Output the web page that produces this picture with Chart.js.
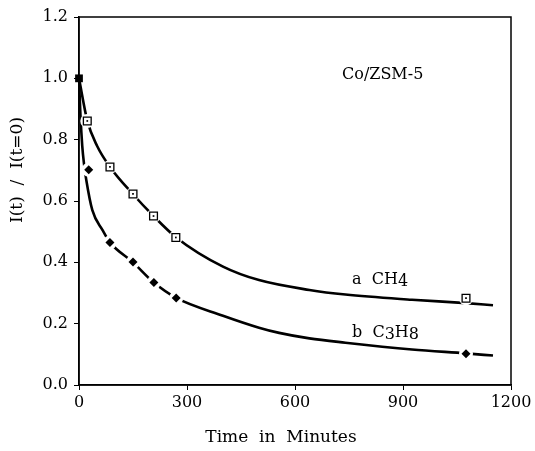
<!DOCTYPE html>
<html>
<head>
<meta charset="utf-8">
<script src="https://cdn.jsdelivr.net/npm/chart.js@4/dist/chart.umd.min.js"></script>
<style>
  html, body { margin: 0; padding: 0; background: #fff; }
  #wrap { width: 535px; height: 451px; }
</style>
</head>
<body>
<div id="wrap"><canvas id="chart"></canvas></div>
<script>
// measured points (minutes, I(t)/I(t=0))
const startTime = [0];
const startValue = [1.0];
const ch4Time = [23, 86, 150, 207, 269, 1075];
const ch4Value = [0.861, 0.711, 0.623, 0.551, 0.481, 0.283];
const c3h8Time = [27, 86, 150, 208, 270, 1075];
const c3h8Value = [0.702, 0.465, 0.401, 0.334, 0.284, 0.102];

// fitted curves
const fitATime = [0, 23, 50, 86, 150, 207, 269, 400, 500, 640, 740, 925, 1075, 1150];
const fitAValue = [1.0, 0.862, 0.78, 0.711, 0.622, 0.551, 0.482, 0.386, 0.342, 0.310, 0.295, 0.278, 0.267, 0.260];
const fitBTime = [0, 4, 9, 14, 20, 37, 65, 86, 150, 208, 270, 400, 500, 556, 640, 740, 925, 1075, 1150];
const fitBValue = [1.0, 0.88, 0.78, 0.72, 0.67, 0.57, 0.506, 0.465, 0.400, 0.334, 0.284, 0.226, 0.187, 0.170, 0.152, 0.138, 0.116, 0.103, 0.096];

const xTicks = [0, 300, 600, 900, 1200];
const yTicks = [0, 0.2, 0.4, 0.6, 0.8, 1.0, 1.2];

const serif = '"DejaVu Serif", "Liberation Serif", serif';

function pts(xs, ys) {
    return xs.map((x, i) => ({ x: x, y: ys[i] }));
}

// frame and text labels
const extras = {
    id: 'extras',
    afterDatasetsDraw(chart) {
        const ctx = chart.ctx;
        const a = chart.chartArea;
        ctx.save();
        ctx.strokeStyle = '#000';
        ctx.lineWidth = 1.5;
        ctx.strokeRect(a.left, a.top, a.right - a.left, a.bottom - a.top);

        ctx.fillStyle = '#000';
        ctx.textBaseline = 'middle';
        ctx.font = '16px ' + serif;
        ctx.textAlign = 'left';
        ctx.fillText('Co/ZSM-5', 342, 75);

        // series labels with lowered digits
        function chem(parts, x, y) {
            let cx = x;
            parts.forEach(p => {
                ctx.fillText(p[0], cx, y + p[1]);
                cx += ctx.measureText(p[0]).width;
            });
        }
        chem([['a  CH', 0], ['4', 2]], 352, 280);
        chem([['b  C', 0], ['3', 2], ['H', 0], ['8', 2]], 352, 333);

        // axis titles
        ctx.font = '17px ' + serif;
        ctx.textAlign = 'center';
        ctx.fillText('Time  in  Minutes', 281, 438);
        ctx.translate(18, 170);
        ctx.rotate(-Math.PI / 2);
        ctx.fillText('I(t)  /  I(t=0)', 0, 0);
        ctx.restore();
    }
};

const ctx = document.getElementById('chart');
new Chart(ctx, {
    type: 'scatter',
    data: {
        datasets: [
            {
                label: 'start',
                data: pts(startTime, startValue),
                pointStyle: 'rect',
                pointRadius: 5.5,
                backgroundColor: '#000',
                borderWidth: 0,
                showLine: false,
                clip: false
            },
            {
                label: 'CH4 dot',
                data: pts(ch4Time, ch4Value),
                pointStyle: 'rect',
                pointRadius: 1.2,
                backgroundColor: '#000',
                borderWidth: 0,
                showLine: false,
                clip: false
            },
            {
                label: 'CH4',
                data: pts(ch4Time, ch4Value),
                pointStyle: 'rect',
                pointRadius: 5.5,
                backgroundColor: '#fff',
                borderColor: '#000',
                borderWidth: 1.3,
                showLine: false,
                clip: false
            },
            {
                label: 'C3H8',
                data: pts(c3h8Time, c3h8Value),
                pointStyle: 'rectRot',
                pointRadius: 4.5,
                backgroundColor: '#000',
                borderWidth: 0,
                showLine: false,
                clip: false
            },
            {
                label: 'halo',
                data: pts(ch4Time, ch4Value).concat(pts(c3h8Time, c3h8Value)),
                pointStyle: 'circle',
                pointRadius: 7,
                backgroundColor: '#fff',
                borderWidth: 0,
                showLine: false
            },
            {
                label: 'fit a',
                data: pts(fitATime, fitAValue),
                showLine: true,
                borderColor: '#000',
                borderWidth: 2.6,
                pointRadius: 0,
                cubicInterpolationMode: 'monotone'
            },
            {
                label: 'fit b',
                data: pts(fitBTime, fitBValue),
                showLine: true,
                borderColor: '#000',
                borderWidth: 2.6,
                pointRadius: 0,
                cubicInterpolationMode: 'monotone'
            }
        ]
    },
    options: {
        responsive: true,
        maintainAspectRatio: false,
        animation: false,
        layout: { padding: { top: 17, right: 24, left: 0, bottom: 0 } },
        plugins: {
            legend: { display: false },
            tooltip: { enabled: false }
        },
        scales: {
            x: {
                type: 'linear',
                min: 0,
                max: 1200,
                afterBuildTicks(scale) {
                    scale.ticks = xTicks.map(v => ({ value: v }));
                },
                afterFit(scale) { scale.height = 66; },
                ticks: {
                    color: '#000',
                    padding: 3,
                    maxRotation: 0,
                    font: { family: serif, size: 16 },
                    callback: v => String(v)
                },
                grid: {
                    drawOnChartArea: false,
                    drawTicks: true,
                    tickLength: 5,
                    tickColor: '#000'
                },
                border: { color: '#000', width: 1.5 }
            },
            y: {
                type: 'linear',
                min: 0,
                max: 1.2,
                afterBuildTicks(scale) {
                    scale.ticks = yTicks.map(v => ({ value: v }));
                },
                afterFit(scale) { scale.width = 79; },
                ticks: {
                    color: '#000',
                    padding: 6,
                    font: { family: serif, size: 16 },
                    callback: v => v.toFixed(1)
                },
                grid: {
                    drawOnChartArea: false,
                    drawTicks: true,
                    tickLength: 5,
                    tickColor: '#000'
                },
                border: { color: '#000', width: 1.5 }
            }
        }
    },
    plugins: [extras]
});
</script>
</body>
</html>
